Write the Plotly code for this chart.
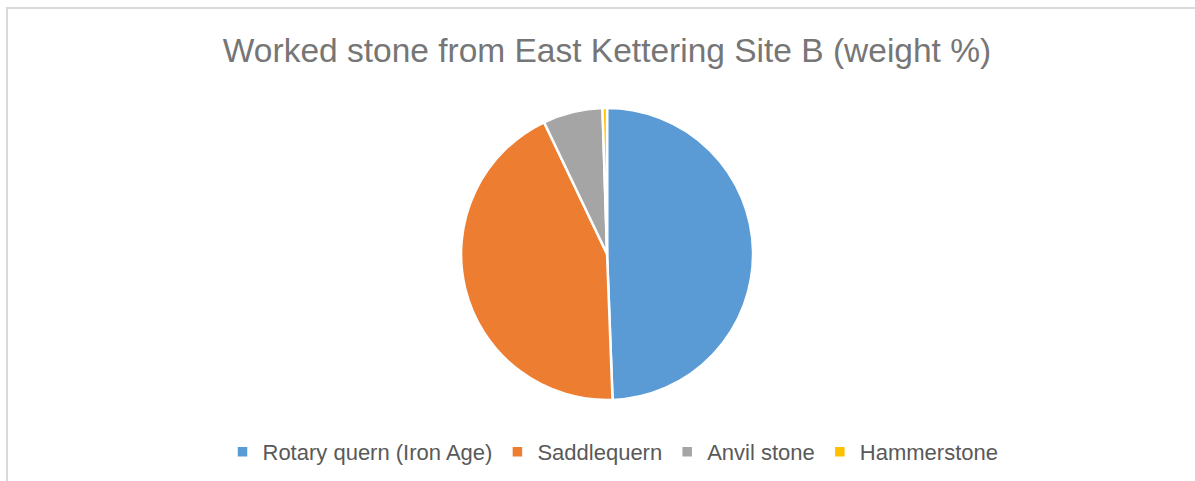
import plotly.graph_objects as go

# Worked stone weight shares by category
categories = ["Rotary quern (Iron Age)", "Saddlequern", "Anvil stone", "Hammerstone"]
weight_pct = [49.4, 43.5, 6.6, 0.5]
colors = ["#5B9BD5", "#ED7D31", "#A5A5A5", "#FFC000"]

W, H = 1195, 481

fig = go.Figure(
    go.Pie(
        labels=categories,
        values=weight_pct,
        sort=False,
        direction="clockwise",
        rotation=0,
        marker=dict(colors=colors, line=dict(color="white", width=2.5)),
        textinfo="none",
        hoverinfo="label+percent",
        domain=dict(x=[0.3, 0.716], y=[81 / H, 373 / H]),
    )
)

fig.update_layout(
    width=W,
    height=H,
    margin=dict(l=0, r=0, t=0, b=0),
    paper_bgcolor="white",
    font=dict(family="Liberation Sans, Arial, sans-serif", color="#595959"),
    title=dict(
        text="Worked stone from East Kettering Site B (weight %)",
        x=607 / W,
        xanchor="center",
        y=1 - 50 / H,
        yanchor="middle",
        font=dict(size=33.5, color="#767676"),
    ),
    legend=dict(
        orientation="h",
        x=613 / W,
        xanchor="center",
        y=1 - 452 / H,
        yanchor="middle",
        font=dict(size=22, color="#595959"),
    ),
    shapes=[
        dict(
            type="rect",
            xref="paper",
            yref="paper",
            x0=7 / W,
            x1=1.01,
            y0=-0.01,
            y1=1 - 8 / H,
            line=dict(color="#D9D9D9", width=2),
            fillcolor="rgba(0,0,0,0)",
        )
    ],
)

fig.write_html("out.html")
